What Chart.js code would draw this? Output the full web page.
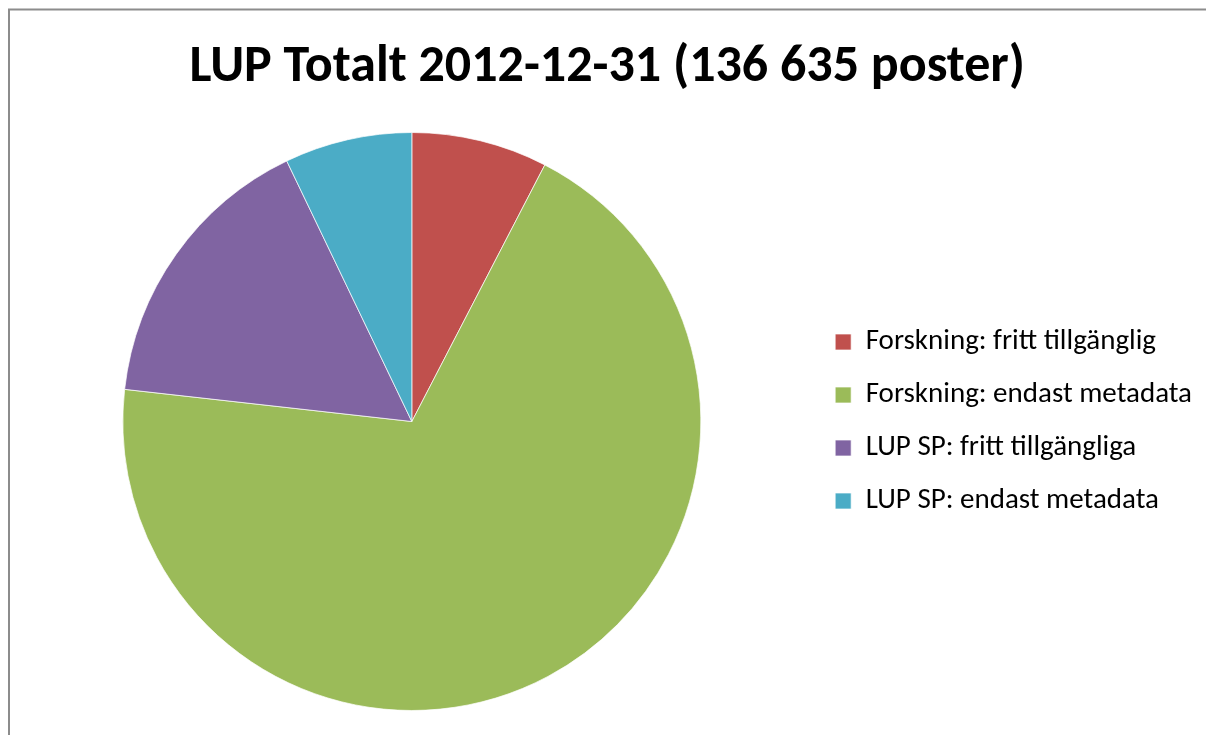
<!DOCTYPE html>
<html>
<head>
<meta charset="utf-8">
<script src="https://cdn.jsdelivr.net/npm/chart.js@4/dist/chart.umd.min.js"></script>
<style>
  html, body { margin: 0; padding: 0; background: #fff; }
  #wrap { position: relative; width: 1206px; height: 735px; }
</style>
</head>
<body>
<div id="wrap"><canvas id="lup"></canvas></div>
<script>
const categories = [
  'Forskning: fritt tillgänglig',
  'Forskning: endast metadata',
  'LUP SP: fritt tillgängliga',
  'LUP SP: endast metadata'
];
const posts = [10400, 94500, 22000, 9735];
const sliceColors = ['#C0504D', '#9BBB59', '#8064A2', '#4BACC6'];

// grey frame like the exported excel chart
const framePlugin = {
  id: 'frame',
  beforeDraw(chart) {
    const ctx = chart.ctx;
    ctx.save();
    ctx.strokeStyle = '#8c8c8c';
    ctx.lineWidth = 2;
    ctx.beginPath();
    ctx.moveTo(9, chart.height);
    ctx.lineTo(9, 9.5);
    ctx.lineTo(chart.width, 9.5);
    ctx.stroke();
    ctx.restore();
  }
};

const lup = document.getElementById('lup');

new Chart(lup, {
  type: 'pie',
  data: {
    labels: categories,
    datasets: [{
      data: posts,
      backgroundColor: sliceColors,
      borderColor: 'rgba(255, 255, 255, 0.7)',
      borderWidth: 1
    }]
  },
  options: {
    responsive: true,
    maintainAspectRatio: false,
    animation: false,
    layout: {
      padding: { left: 12.5, right: 4, top: 0, bottom: 24 }
    },
    plugins: {
      title: {
        display: true,
        text: 'LUP Totalt 2012-12-31 (136 635 poster)',
        color: '#000',
        font: { family: 'Carlito, Lato, sans-serif', size: 52, weight: 'bold', lineHeight: 1.2 },
        padding: { top: 37, bottom: 32.6 }
      },
      legend: {
        position: 'right',
        fullSize: false,
        labels: {
          color: '#000',
          boxWidth: 16,
          boxHeight: 16,
          padding: 24,
          font: { family: 'Carlito, Lato, sans-serif', size: 29, lineHeight: 1.2 }
        }
      },
      tooltip: { enabled: false }
    }
  },
  plugins: [framePlugin]
});
</script>
</body>
</html>
